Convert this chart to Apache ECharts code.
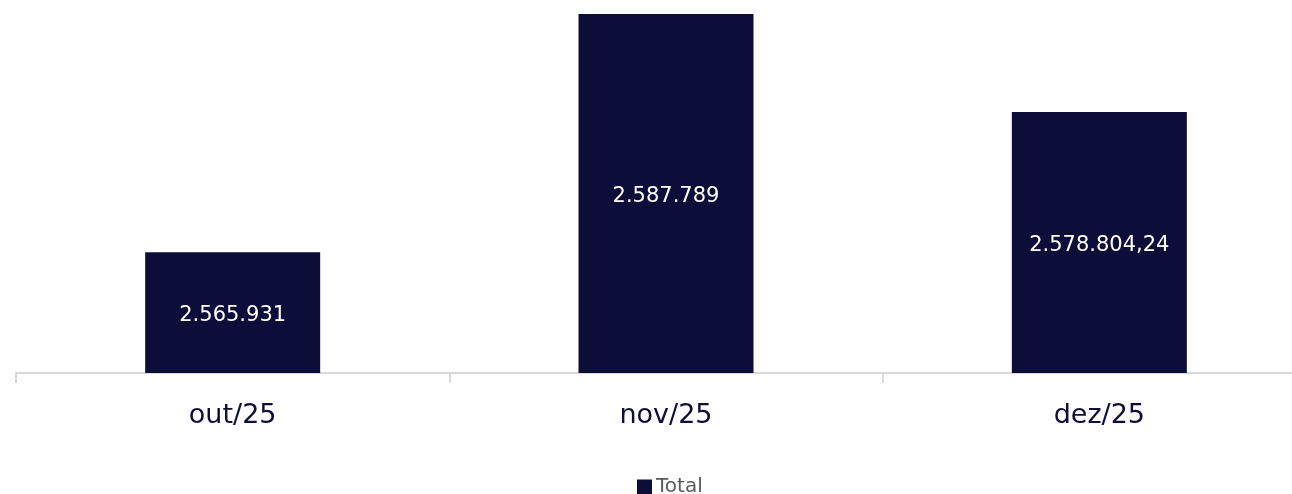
<!DOCTYPE html>
<html>
<head>
<meta charset="utf-8">
<script src="https://cdn.jsdelivr.net/npm/echarts@6/dist/echarts.min.js"></script>
<style>
html,body{margin:0;padding:0;background:#fff;overflow:hidden;width:1292px;height:494px;}
#chart{width:1316px;height:494px;}
</style>
</head>
<body>
<div id="chart"></div>
<script>
const categories = ['out/25', 'nov/25', 'dez/25'];
const totalValues = [2565931, 2587789, 2578804.24];
const seriesName = 'Total';

function fmtBR(v) {
  const neg = v < 0; v = Math.abs(v);
  let intPart = Math.floor(v);
  let frac = Math.round((v - intPart) * 100);
  if (frac === 100) { intPart += 1; frac = 0; }
  const s = String(intPart).replace(/\B(?=(\d{3})+(?!\d))/g, '.');
  return (neg ? '-' : '') + s + (frac ? ',' + String(frac).padStart(2, '0') : '');
}

const FONT = '"DejaVu Sans", sans-serif';
const chart = echarts.init(document.getElementById('chart'), null, {renderer: 'canvas'});
chart.setOption({
  animation: false,
  grid: {left: 16, right: 0, top: 0, height: 373, containLabel: false},
  legend: {
    data: [seriesName],
    left: 632,
    top: 472,
    icon: 'rect',
    itemWidth: 15,
    itemHeight: 15,
    textStyle: {fontFamily: FONT, fontSize: 20, lineHeight: 15, color: '#595959', padding: [0, 0, 0, -1]}
  },
  xAxis: {
    type: 'category',
    data: categories,
    axisLine: {lineStyle: {color: '#d9d9d9', width: 2}},
    axisTick: {show: true, length: 10, lineStyle: {color: '#d9d9d9', width: 2}},
    axisLabel: {fontFamily: FONT, fontSize: 27, color: '#0d0d3a', margin: 29}
  },
  yAxis: {
    type: 'value',
    min: 2554860,
    max: 2589072,
    show: false,
    splitLine: {show: false}
  },
  series: [{
    name: seriesName,
    type: 'bar',
    data: totalValues,
    barWidth: 175,
    itemStyle: {color: '#0d0d3a'},
    label: {
      show: true,
      position: 'inside',
      offset: [0, 3],
      fontFamily: FONT,
      fontSize: 21,
      color: '#ffffff',
      formatter: p => fmtBR(p.value)
    }
  }]
});
</script>
</body>
</html>
